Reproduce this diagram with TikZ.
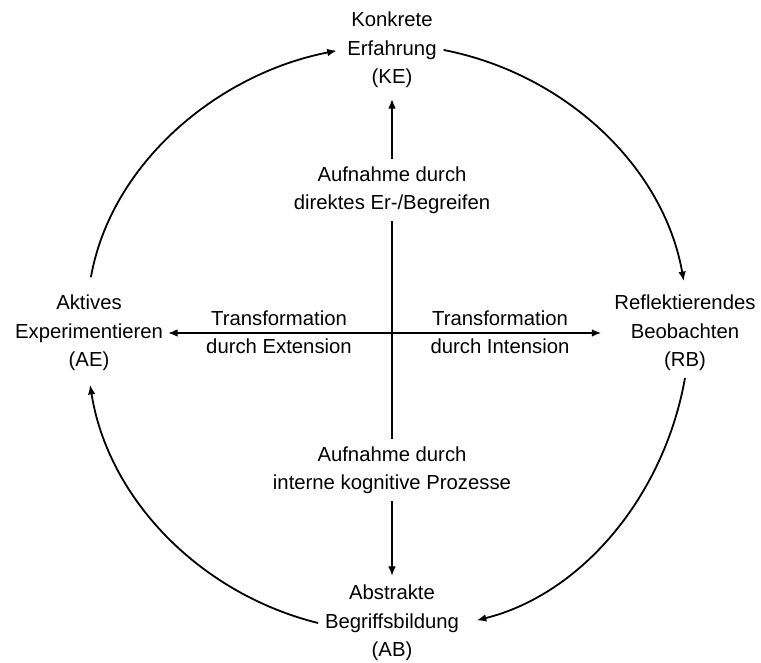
\documentclass[tikz,border=0pt]{standalone}
\usepackage{fontspec}
\setmainfont{Liberation Sans}
\usetikzlibrary{arrows.meta}
\begin{document}
\begin{tikzpicture}[x=0.5pt,y=0.5pt,
  lbl/.style={align=center,font=\fontsize{10.15}{14.2}\selectfont},
  arr/.style={-{Latex[length=4.8pt,width=3.8pt]},line width=0.9pt},
  biarr/.style={{Latex[length=4.8pt,width=3.8pt]}-{Latex[length=4.8pt,width=3.8pt]},line width=0.9pt}]
\useasboundingbox (0,0) rectangle (761,663);
% the four stages
\node[lbl] (KE) at (392,613) {Konkrete\\Erfahrung\\(KE)};
\node[lbl] (RB) at (685,330) {Reflektierendes\\Beobachten\\(RB)};
\node[lbl] (AB) at (392,40) {Abstrakte\\Begriffsbildung\\(AB)};
\node[lbl] (AE) at (89,330) {Aktives\\Experimentieren\\(AE)};
% the axes
\node[lbl] (auf-top) at (392,473) {Aufnahme durch\\direktes Er-/Begreifen};
\node[lbl] (auf-bot) at (392,193) {Aufnahme durch\\interne kognitive Prozesse};
\node[lbl] (tr-ext) at (279,331) {Transformation\\durch Extension};
\node[lbl] (tr-int) at (500,331) {Transformation\\durch Intension};
\draw[line width=0.9pt] (auf-top) -- (auf-bot);
\draw[arr,shorten >=2pt] (auf-top) -- (KE);
\draw[arr,shorten >=1pt] (auf-bot) -- (AB);
\draw[biarr,shorten <=-1pt,shorten >=3pt] (AE) -- (RB);
% the cycle
\draw[arr,looseness=0.93,shorten <=5.5pt,shorten >=1.8pt] (AE.north) to[out=80,in=191] (KE.west);
\draw[arr,looseness=0.93,shorten >=3.5pt] (KE.east) to[out=-11,in=100] (RB.north);
\draw[arr,looseness=0.93,shorten >=5.5pt] (RB.south) to[out=-100,in=14] (AB.east);
\draw[arr,looseness=0.93,shorten >=3.5pt] (AB.west) to[out=166,in=-81] (AE.south);
\end{tikzpicture}
\end{document}
